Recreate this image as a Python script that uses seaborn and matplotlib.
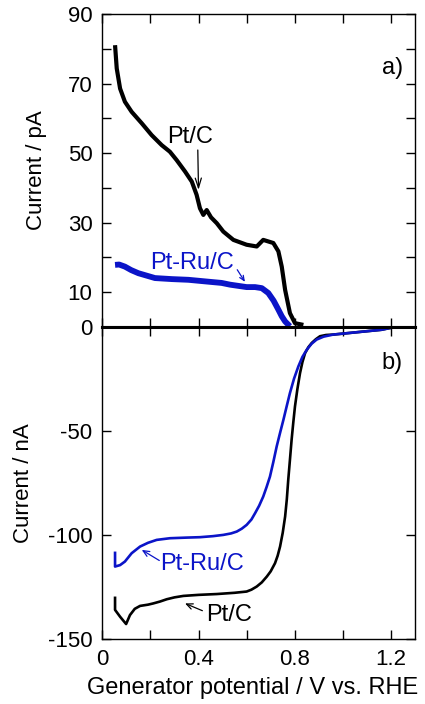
import matplotlib
matplotlib.use("Agg")
import matplotlib.pyplot as plt
import pandas as pd
import seaborn as sns
from matplotlib.ticker import FixedLocator

# ---- collector current (top, pA) ----
ptc_top_E = [0.053, 0.060, 0.074, 0.094, 0.122, 0.164, 0.205, 0.247, 0.281, 0.309,
             0.344, 0.372, 0.392, 0.406, 0.420, 0.434, 0.452, 0.476, 0.503, 0.545,
             0.600, 0.642, 0.669, 0.711, 0.732, 0.746, 0.760, 0.780, 0.801, 0.836]
ptc_top_I = [81.1, 74.4, 68.6, 64.8, 61.9, 58.6, 55.2, 52.3, 50.4, 48.0,
             44.7, 41.8, 38.0, 34.1, 32.2, 33.6, 31.5, 29.8, 27.4, 25.0,
             23.6, 23.1, 25.0, 24.1, 21.7, 17.3, 10.6, 3.9, 1.0, 0.5]

ptru_top_E = [0.053, 0.070, 0.094, 0.120, 0.150, 0.219, 0.290, 0.358, 0.434, 0.496,
              0.531, 0.600, 0.635, 0.663, 0.690, 0.712, 0.732, 0.746, 0.760, 0.780]
ptru_top_I = [17.8, 17.9, 17.3, 16.3, 15.4, 14.0, 13.7, 13.5, 13.0, 12.6,
              12.1, 11.4, 11.4, 11.1, 9.7, 7.5, 4.9, 3.0, 1.5, 0.1]

# ---- generator current (bottom, nA) ----
ptc_bot_E = [0.053, 0.053, 0.074, 0.099, 0.115, 0.135, 0.157, 0.19, 0.212, 0.24,
             0.268, 0.30, 0.337, 0.40, 0.476, 0.55, 0.60, 0.62, 0.642, 0.663,
             0.684, 0.70, 0.718, 0.729, 0.739, 0.75, 0.76, 0.767, 0.773, 0.78,
             0.787, 0.794, 0.801, 0.811, 0.822, 0.832, 0.843, 0.857, 0.871, 0.888,
             0.905, 0.93, 0.96, 1.03, 1.099, 1.16, 1.224]
ptc_bot_I = [-129.6, -136.0, -139.3, -142.8, -138.5, -135.5, -134.1, -133.5, -132.9, -132.0,
             -130.9, -130.0, -129.3, -128.8, -128.4, -127.8, -127.2, -126.3, -124.8, -122.8,
             -120.0, -117.5, -113.6, -110.0, -105.6, -99.0, -91.2, -83.0, -73.6, -64.0,
             -54.3, -46.0, -38.3, -30.0, -22.3, -17.0, -12.7, -9.8, -7.8, -6.0,
             -4.6, -4.0, -3.8, -3.0, -2.2, -1.5, 0.0]

ptru_bot_E = [0.053, 0.053, 0.074, 0.094, 0.122, 0.157, 0.19, 0.226, 0.281, 0.35,
              0.406, 0.46, 0.503, 0.535, 0.559, 0.58, 0.60, 0.62, 0.635, 0.652,
              0.669, 0.683, 0.697, 0.711, 0.725, 0.739, 0.753, 0.767, 0.780, 0.797,
              0.815, 0.832, 0.85, 0.87, 0.891, 0.92, 0.96, 1.03, 1.099, 1.16, 1.224]
ptru_bot_I = [-108.0, -115.2, -114.5, -112.8, -108.8, -105.6, -103.8, -102.4, -101.6, -101.3,
              -101.1, -100.6, -100.0, -99.3, -98.4, -97.0, -95.2, -92.6, -89.6, -86.0,
              -81.6, -77.0, -72.0, -65.0, -57.5, -51.0, -44.7, -38.0, -31.9, -25.0,
              -19.1, -14.5, -11.1, -8.2, -6.2, -4.8, -3.8, -3.0, -2.2, -1.5, 0.0]

x_ticks = [0.0, 0.2, 0.4, 0.6, 0.8, 1.0, 1.2]
x_ticklabels = ["0", "", "0.4", "", "0.8", "", "1.2"]
top_yticks = [0, 10, 20, 30, 40, 50, 60, 70, 80, 90]
top_yticklabels = ["0", "10", "", "30", "", "50", "", "70", "", "90"]
bot_yticks = [-150, -100, -50, 0]
bot_yticklabels = ["-150", "-100", "-50", ""]

BLUE = "#0b14c8"
BLACK = "#000000"

sns.set_style("ticks")
plt.rcParams["font.family"] = ["Liberation Sans", "DejaVu Sans"]
plt.rcParams["axes.edgecolor"] = "black"
plt.rcParams["xtick.color"] = "black"
plt.rcParams["ytick.color"] = "black"
plt.rcParams["text.color"] = "black"
plt.rcParams["axes.labelcolor"] = "black"

fig, (ax1, ax2) = plt.subplots(2, 1, figsize=(4.25, 7.04), dpi=100, sharex=True)
fig.subplots_adjust(left=0.2407, right=0.9765, top=0.9797, bottom=0.0923, hspace=0)


def trace(ax, E, I, color, lw):
    df = pd.DataFrame({"E": E, "I": I})
    sns.lineplot(data=df, x="E", y="I", ax=ax, color=color, lw=lw,
                 sort=False, estimator=None, legend=False,
                 solid_joinstyle="round", solid_capstyle="butt")


trace(ax1, ptc_top_E, ptc_top_I, BLACK, 3.0)
trace(ax1, ptru_top_E, ptru_top_I, BLUE, 4.2)
trace(ax2, ptc_bot_E, ptc_bot_I, BLACK, 1.9)
trace(ax2, ptru_bot_E, ptru_bot_I, BLUE, 1.9)

for ax in (ax1, ax2):
    ax.set_xlim(0, 1.3)
    ax.xaxis.set_major_locator(FixedLocator(x_ticks))
    ax.tick_params(direction="in", top=True, right=True, length=6.5, width=1.0,
                   labelsize=16, pad=7)
    for s in ax.spines.values():
        s.set_linewidth(1.0)
        s.set_color("black")

ax2.set_xticklabels(x_ticklabels)

ax1.set_ylim(0, 90)
ax1.set_yticks(top_yticks)
ax1.set_yticklabels(top_yticklabels)
ax2.set_ylim(-150, 0)
ax2.set_yticks(bot_yticks)
ax2.set_yticklabels(bot_yticklabels)
ax1.spines["bottom"].set_linewidth(2.2)
ax2.spines["top"].set_linewidth(2.2)

ax1.set_xlabel("")
ax1.set_ylabel("Current / pA", fontsize=16)
ax2.set_ylabel("Current / nA", fontsize=16)
ax1.yaxis.set_label_coords(-0.177, 0.5)
ax2.yaxis.set_label_coords(-0.22, 0.5)
ax2.set_xlabel("Generator potential / V vs. RHE", fontsize=17)
ax2.xaxis.set_label_coords(0.48, -0.12)

# panel tags
ax1.text(1.162, 72.7, "a)", fontsize=17, ha="left", va="baseline")
ax2.text(1.162, -20.3, "b)", fontsize=17, ha="left", va="baseline")

# curve labels with pointers
ax1.text(0.27, 52.8, "Pt/C", fontsize=17, color=BLACK, ha="left", va="baseline")
ax1.annotate("", xy=(0.40, 39.4), xytext=(0.397, 50.9),
             arrowprops=dict(arrowstyle="->,head_length=0.7,head_width=0.22",
                             lw=0.9, color=BLACK, shrinkA=0, shrinkB=0))
ax1.text(0.198, 16.6, "Pt-Ru/C", fontsize=17, color=BLUE, ha="left", va="baseline")
ax1.annotate("", xy=(0.593, 12.9), xytext=(0.561, 16.4),
             arrowprops=dict(arrowstyle="->,head_length=0.35,head_width=0.15",
                             lw=0.9, color=BLUE, shrinkA=0, shrinkB=0))
ax2.text(0.24, -116.8, "Pt-Ru/C", fontsize=17, color=BLUE, ha="left", va="baseline")
ax2.annotate("", xy=(0.164, -107.2), xytext=(0.237, -112.3),
             arrowprops=dict(arrowstyle="->,head_length=0.45,head_width=0.2",
                             lw=0.9, color=BLUE, shrinkA=0, shrinkB=0))
ax2.text(0.431, -141.2, "Pt/C", fontsize=17, color=BLACK, ha="left", va="baseline")
ax2.annotate("", xy=(0.344, -132.9), xytext=(0.416, -136.4),
             arrowprops=dict(arrowstyle="->,head_length=0.45,head_width=0.2",
                             lw=0.9, color=BLACK, shrinkA=0, shrinkB=0))

fig.savefig("out.png", dpi=100)
